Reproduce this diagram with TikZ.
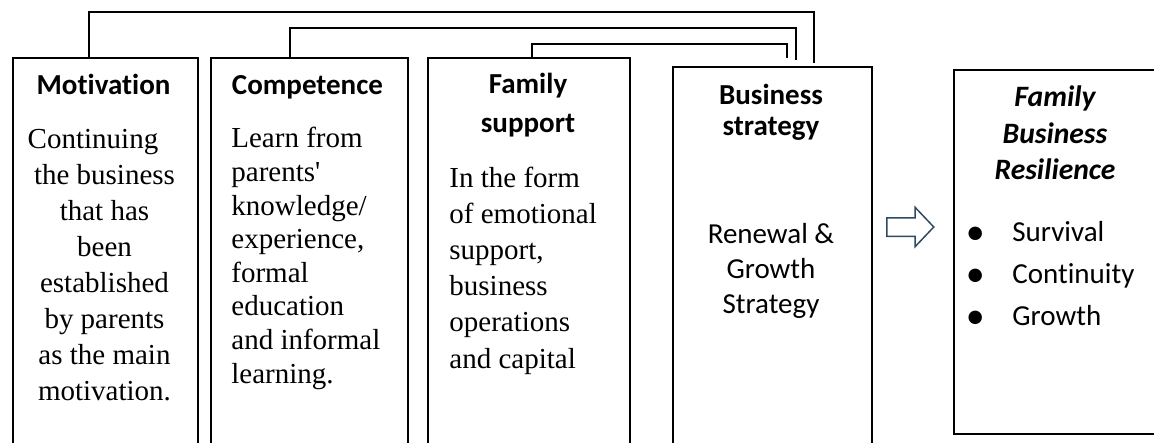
\documentclass[tikz,border=0pt]{standalone}
\usepackage{fontspec}
\setmainfont{Liberation Serif}
\newfontfamily\hdfont[Ligatures=NoCommon]{Carlito}
\usetikzlibrary{shapes.arrows}
\definecolor{pfeil}{HTML}{2F4A63}
\newcommand\punkt{\makebox[32pt]{\raisebox{-1.5pt}{\fontsize{19}{19}\selectfont\textbullet}}}
\tikzset{
  box/.style={draw,line width=0.9pt,inner sep=0pt,anchor=north west},
  link/.style={line width=0.9pt},
  head/.style={font=\hdfont\bfseries\fontsize{14.5}{#1}\selectfont,align=center,inner sep=0pt,anchor=base},
  head/.default=18,
  headit/.style={font=\hdfont\bfseries\itshape\fontsize{14.8}{#1}\selectfont,align=center,inner sep=0pt,anchor=base},
  body/.style={font=\fontsize{14.5}{#1}\selectfont,align=left,inner sep=0pt,anchor=base west},
  bodyc/.style={font=\fontsize{14.5}{#1}\selectfont,align=center,inner sep=0pt,anchor=base},
  plain/.style={font=\hdfont\fontsize{14.5}{#1}\selectfont,align=center,inner sep=0pt,anchor=base},
  liste/.style={font=\hdfont\fontsize{14.5}{#1}\selectfont,align=left,inner sep=0pt,anchor=base west},
  blockpfeil/.style={single arrow,draw=pfeil,fill=white,line width=0.75pt,
    inner xsep=0pt,inner ysep=4.25pt,minimum height=23.5pt,
    single arrow head extend=5.25pt,single arrow tip angle=93,anchor=west},
}

\begin{document}
\begin{tikzpicture}[x=0.5pt,y=-0.5pt]
  \useasboundingbox (0,0) rectangle (1154,443);
  \node[box,minimum width=92.5pt,minimum height=196.5pt] (mot) at (12,57) {};
  \node[box,minimum width=98.5pt,minimum height=196.5pt] (com) at (210,57) {};
  \node[box,minimum width=101pt,minimum height=196.5pt] (fam) at (427,57) {};
  \node[box,minimum width=99.5pt,minimum height=192pt] (bus) at (672,66) {};
  \node[box,minimum width=102pt,minimum height=182pt] (res) at (953,69) {};

  % multi-line nodes sit on the baseline of their last line
  \node[head] (mot-head) at (103.5,95) {Motivation};
  \node[head] (com-head) at (307.5,95) {Competence};
  \node[head=19.5] (fam-head) at (528,133) {Family\\support};
  \node[head=15.5] (bus-head) at (771,136) {Business\\strategy};
  \node[headit=18.25] (res-head) at (1055,180) {Family\\Business\\Resilience};

  \node[bodyc=18] (mot-text) at (104.5,400) {Continuing\kern11.5pt\\the business\\that has\\been\\established\\by parents\\as the main\\motivation.};
  \node[body=16.8] (com-text) at (231,383) {Learn from\\parents\textquotesingle\\knowledge/\\experience,\\formal\\education\\and informal\\learning.};
  \node[body=18.1] (fam-text) at (449,368) {In the form\\of emotional\\support,\\business\\operations\\and capital};
  \node[plain=17.5] (bus-text) at (771,313) {Renewal \&\\Growth\\Strategy};
  \node[liste=21] (res-list) at (943,325) {\punkt\kern2.5pt Survival\\\punkt\kern2.5pt Continuity\\\punkt\kern2.5pt Growth};

  \node[blockpfeil] (pfeil) at (886,227) {};

  \coordinate (mot-up) at (89,12);
  \coordinate (mot-end) at (814,63);
  \coordinate (com-up) at (290,28);
  \coordinate (com-end) at (796,60);
  \coordinate (fam-up) at (532,44);
  \coordinate (fam-end) at (787,58);
  \draw[link] (mot-up |- mot.north) -- (mot-up) -| (mot-end);
  \draw[link] (com-up |- com.north) -- (com-up) -| (com-end);
  \draw[link] (fam-up |- fam.north) -- (fam-up) -| (fam-end);
\end{tikzpicture}
\end{document}
